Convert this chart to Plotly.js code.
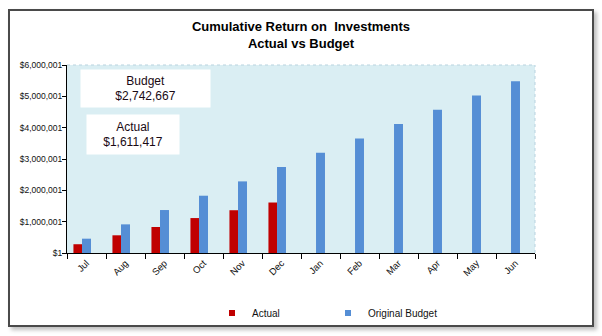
<!DOCTYPE html>
<html>
<head>
<meta charset="utf-8">
<script src="https://cdn.plot.ly/plotly-3.0.1.min.js"></script>
<style>
  html, body { margin: 0; padding: 0; background: #ffffff; }
  #frame { position: absolute; left: 8px; top: 9px; width: 582px; height: 314px;
           border: 2px solid #4a4a4a; background: #ffffff;
           box-shadow: 3px 3px 4px rgba(0,0,0,0.25); }
  #chart { position: absolute; left: 0; top: 0; width: 602px; height: 336px; }
</style>
</head>
<body>
<div id="frame"></div>
<div id="chart"></div>
<script>
// ---- data ----
var months = ["Jul", "Aug", "Sep", "Oct", "Nov", "Dec", "Jan", "Feb", "Mar", "Apr", "May", "Jun"];
var actualMonths = ["Jul", "Aug", "Sep", "Oct", "Nov", "Dec"];
var actualValues = [280000, 565000, 830000, 1115000, 1365000, 1611417];
var budgetValues = [457111, 914222, 1371333, 1828444, 2285556, 2742667,
                    3199778, 3656889, 4114000, 4571111, 5028222, 5485334];
var yTickVals = [1, 1000001, 2000001, 3000001, 4000001, 5000001, 6000001];
var yTickText = ["$1", "$1,000,001", "$2,000,001", "$3,000,001", "$4,000,001", "$5,000,001", "$6,000,001"];
var budgetLabel = "Budget<br>$2,742,667";
var actualLabel = "Actual<br>$1,611,417";

var red = "#C00000", blue = "#558ED5";

var traces = [
  { type: "bar", name: "Actual", x: actualMonths, y: actualValues,
    marker: { color: red }, width: 0.22, offset: -0.335, showlegend: false, hoverinfo: "skip" },
  { type: "bar", name: "Original Budget", x: months, y: budgetValues,
    marker: { color: blue }, width: 0.23, offset: -0.115, showlegend: false, hoverinfo: "skip" },
  { type: "scatter", mode: "markers", name: "Actual", x: [null], y: [null],
    marker: { symbol: "square", size: 6, color: red }, hoverinfo: "skip" },
  { type: "scatter", mode: "markers", name: "Original Budget", x: [null], y: [null],
    marker: { symbol: "square", size: 6, color: blue }, hoverinfo: "skip" }
];

var layout = {
  width: 602, height: 336,
  margin: { l: 67, r: 67, t: 65, b: 83, autoexpand: false },
  paper_bgcolor: "rgba(0,0,0,0)",
  plot_bgcolor: "#DAEEF3",
  font: { family: "Arial, 'Liberation Sans', sans-serif", size: 10, color: "#111111" },
  barmode: "overlay",
  title: {
    text: "<b>Cumulative Return on  Investments<br>Actual vs Budget</b>",
    font: { size: 13, color: "#000000" },
    x: 0.5, xanchor: "center", xref: "paper",
    y: 1 - 31 / 336, yanchor: "middle"
  },
  xaxis: {
    type: "category", categoryorder: "array", categoryarray: months,
    tickangle: -45, ticks: "outside", ticklen: 5, tickcolor: "#000", tickson: "boundaries",
    showline: true, linecolor: "#000", linewidth: 1, showgrid: false,
    tickfont: { size: 9.5, color: "#111" }, fixedrange: true
  },
  yaxis: {
    range: [0, 6000001], tickvals: yTickVals, ticktext: yTickText,
    ticks: "outside", ticklen: 4, tickcolor: "#000",
    showline: true, linecolor: "#000", linewidth: 1, showgrid: false, zeroline: false,
    tickfont: { size: 8.5, color: "#111" }, ticklabelstandoff: -2, fixedrange: true
  },
  showlegend: true,
  legend: {
    orientation: "h", xref: "container", x: 212 / 602, xanchor: "left",
    yref: "container", y: (336 - 313) / 336, yanchor: "middle",
    font: { size: 10, color: "#111" }, entrywidth: 71, entrywidthmode: "pixels",
    bgcolor: "rgba(0,0,0,0)", itemwidth: 30, borderwidth: 0
  },
  shapes: [
    { type: "line", xref: "paper", yref: "paper", x0: 0, x1: 1, y0: 1, y1: 1,
      line: { color: "#b9d3df", width: 1, dash: "dot" } },
    { type: "line", xref: "paper", yref: "paper", x0: 1, x1: 1, y0: 0, y1: 1,
      line: { color: "#b9d3df", width: 1, dash: "dot" } }
  ],
  annotations: [
    { text: budgetLabel, xref: "paper", yref: "paper", x: (145.5 - 67) / 468, y: (253 - 88.5) / 188,
      xanchor: "center", yanchor: "middle", showarrow: false, bgcolor: "#ffffff",
      width: 129, height: 37, borderpad: 0, font: { size: 12, color: "#1a0a14" } },
    { text: actualLabel, xref: "paper", yref: "paper", x: (133 - 67) / 468, y: (253 - 134.5) / 188,
      xanchor: "center", yanchor: "middle", showarrow: false, bgcolor: "#ffffff",
      width: 92, height: 39, borderpad: 0, font: { size: 12, color: "#1a0a14" } }
  ]
};

Plotly.newPlot("chart", traces, layout, { displayModeBar: false, staticPlot: true });
</script>
</body>
</html>
